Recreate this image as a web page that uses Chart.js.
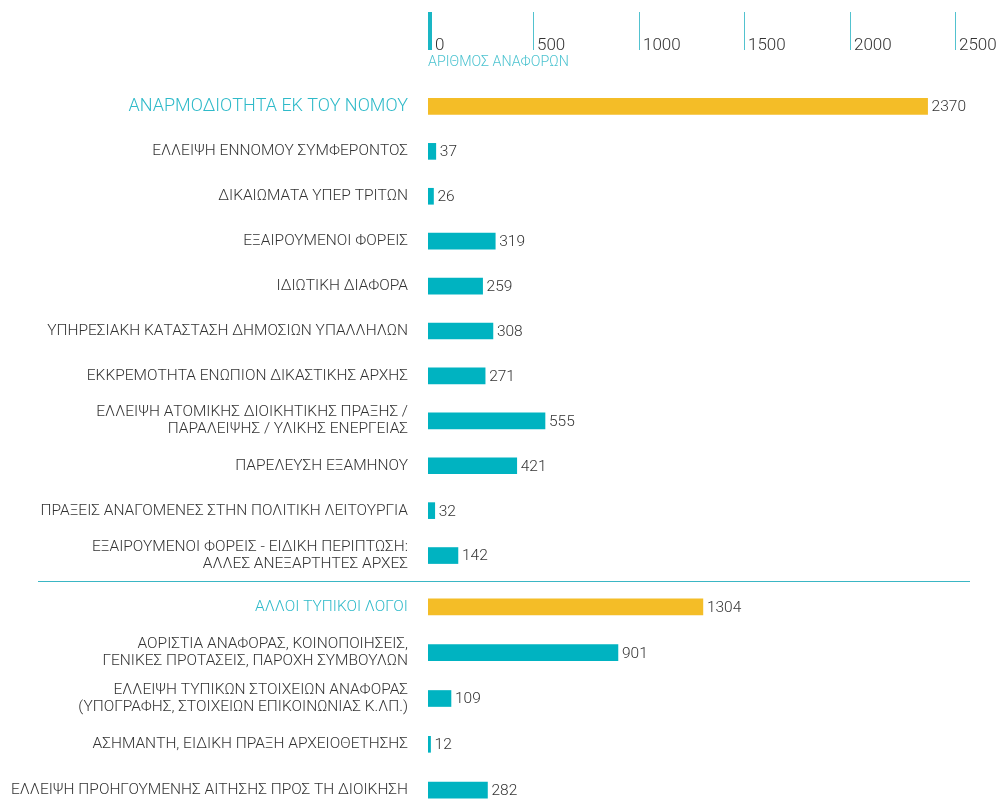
<!DOCTYPE html>
<html>
<head>
<meta charset="utf-8">
<script src="https://cdn.jsdelivr.net/npm/chart.js@4.4.1/dist/chart.umd.min.js"></script>
<style>
    html, body { margin: 0; padding: 0; background: #fff; overflow: hidden; width: 1001px; height: 805px; }
    #wrap { position: relative; width: 1001px; height: 805px; }
    canvas { position: absolute; left: 0; }
    #topChart { top: 0; }
    #bottomChart { top: 584px; }
    #sep { position: absolute; left: 38px; width: 932px; top: 581px; height: 1px; background: #3ab6c4; }
</style>
</head>
<body>
<div id="wrap">
    <canvas id="topChart" width="1001" height="578"></canvas>
    <div id="sep"></div>
    <canvas id="bottomChart" width="1001" height="229"></canvas>
</div>
<script>
// data
const topLabels = [
    'ΑΝΑΡΜΟΔΙΟΤΗΤΑ ΕΚ ΤΟΥ ΝΟΜΟΥ',
    'ΕΛΛΕΙΨΗ ΕΝΝΟΜΟΥ ΣΥΜΦΕΡΟΝΤΟΣ',
    'ΔΙΚΑΙΩΜΑΤΑ ΥΠΕΡ ΤΡΙΤΩΝ',
    'ΕΞΑΙΡΟΥΜΕΝΟΙ ΦΟΡΕΙΣ',
    'ΙΔΙΩΤΙΚΗ ΔΙΑΦΟΡΑ',
    'ΥΠΗΡΕΣΙΑΚΗ ΚΑΤΑΣΤΑΣΗ ΔΗΜΟΣΙΩΝ ΥΠΑΛΛΗΛΩΝ',
    'ΕΚΚΡΕΜΟΤΗΤΑ ΕΝΩΠΙΟΝ ΔΙΚΑΣΤΙΚΗΣ ΑΡΧΗΣ',
    ['ΕΛΛΕΙΨΗ ΑΤΟΜΙΚΗΣ ΔΙΟΙΚΗΤΙΚΗΣ ΠΡΑΞΗΣ /', 'ΠΑΡΑΛΕΙΨΗΣ / ΥΛΙΚΗΣ ΕΝΕΡΓΕΙΑΣ'],
    'ΠΑΡΕΛΕΥΣΗ ΕΞΑΜΗΝΟΥ',
    'ΠΡΑΞΕΙΣ ΑΝΑΓΟΜΕΝΕΣ ΣΤΗΝ ΠΟΛΙΤΙΚΗ ΛΕΙΤΟΥΡΓΙΑ',
    ['ΕΞΑΙΡΟΥΜΕΝΟΙ ΦΟΡΕΙΣ - ΕΙΔΙΚΗ ΠΕΡΙΠΤΩΣΗ:', 'ΑΛΛΕΣ ΑΝΕΞΑΡΤΗΤΕΣ ΑΡΧΕΣ']
];
const topValues = [2370, 37, 26, 319, 259, 308, 271, 555, 421, 32, 142];

const bottomLabels = [
    'ΑΛΛΟΙ ΤΥΠΙΚΟΙ ΛΟΓΟΙ',
    ['ΑΟΡΙΣΤΙΑ ΑΝΑΦΟΡΑΣ, ΚΟΙΝΟΠΟΙΗΣΕΙΣ,', 'ΓΕΝΙΚΕΣ ΠΡΟΤΑΣΕΙΣ, ΠΑΡΟΧΗ ΣΥΜΒΟΥΛΩΝ'],
    ['ΕΛΛΕΙΨΗ ΤΥΠΙΚΩΝ ΣΤΟΙΧΕΙΩΝ ΑΝΑΦΟΡΑΣ', '(ΥΠΟΓΡΑΦΗΣ, ΣΤΟΙΧΕΙΩΝ ΕΠΙΚΟΙΝΩΝΙΑΣ Κ.ΛΠ.)'],
    'ΑΣΗΜΑΝΤΗ, ΕΙΔΙΚΗ ΠΡΑΞΗ ΑΡΧΕΙΟΘΕΤΗΣΗΣ',
    'ΕΛΛΕΙΨΗ ΠΡΟΗΓΟΥΜΕΝΗΣ ΑΙΤΗΣΗΣ ΠΡΟΣ ΤΗ ΔΙΟΙΚΗΣΗ'
];
const bottomValues = [1304, 901, 109, 12, 282];

const axisTicks = [0, 500, 1000, 1500, 2000, 2500];
const axisTitle = 'ΑΡΙΘΜΟΣ ΑΝΑΦΟΡΩΝ';

const TEAL = '#00b3c1';
const YELLOW = '#f4bd27';
const FONT = 'Roboto';

// value labels at the end of each bar
const valueLabels = {
    id: 'valueLabels',
    afterDatasetsDraw(chart) {
        const ctx = chart.ctx;
        const meta = chart.getDatasetMeta(0);
        const vals = chart.data.datasets[0].data;
        ctx.save();
        ctx.font = '300 15.5px ' + FONT;
        ctx.fillStyle = '#333';
        ctx.textAlign = 'left';
        ctx.textBaseline = 'middle';
        meta.data.forEach((bar, i) => {
            ctx.fillText(vals[i], bar.x + 4, bar.y + 1);
        });
        ctx.restore();
    }
};

// top axis drawn from the x scale
const topAxis = {
    id: 'topAxis',
    afterDraw(chart) {
        const ctx = chart.ctx;
        const xs = chart.scales.x;
        ctx.save();
        axisTicks.forEach(v => {
            const px = Math.round(xs.getPixelForValue(v));
            ctx.fillStyle = v === 0 ? '#1ab6c4' : '#52c2cf';
            ctx.fillRect(px, 12, v === 0 ? 4 : 1, 38);
            ctx.fillStyle = '#333';
            ctx.font = '300 17px ' + FONT;
            ctx.textBaseline = 'alphabetic';
            ctx.fillText(v, px + (v === 0 ? 7 : 4), 50);
        });
        ctx.fillStyle = '#4cc3d0';
        ctx.font = '300 14.3px ' + FONT;
        ctx.textBaseline = 'middle';
        ctx.fillText(axisTitle, xs.getPixelForValue(0), 62);
        ctx.restore();
    }
};

function makeChart(id, labels, values, headerSize, topPad, plugins) {
    const ctx = document.getElementById(id).getContext('2d');
    return new Chart(ctx, {
        type: 'bar',
        data: {
            labels: labels,
            datasets: [{
                data: values,
                backgroundColor: values.map((_, i) => i === 0 ? YELLOW : TEAL),
                barThickness: 16,
                borderWidth: 0
            }]
        },
        options: {
            indexAxis: 'y',
            responsive: false,
            animation: false,
            layout: { padding: { top: topPad, right: 46, left: 0, bottom: 0 } },
            scales: {
                x: { type: 'linear', min: 0, max: 2500, display: false },
                y: {
                    grid: { display: false, drawTicks: false },
                    border: { display: false },
                    afterFit(scale) {
                        scale.width = 428;
                        scale.paddingTop = 0;
                        scale.paddingBottom = 0;
                    },
                    ticks: {
                        padding: 20,
                        color: (c) => c.index === 0 ? '#2fbac9' : '#333',
                        font: (c) => ({
                            family: FONT,
                            weight: 300,
                            size: c.index === 0 ? headerSize : 15.5,
                            lineHeight: 1.1
                        })
                    }
                }
            },
            plugins: {
                legend: { display: false },
                tooltip: { enabled: false }
            }
        },
        plugins: plugins
    });
}

makeChart('topChart', topLabels, topValues, 18, 84, [valueLabels, topAxis]);
makeChart('bottomChart', bottomLabels, bottomValues, 15.5, 0, [valueLabels]);
</script>
</body>
</html>
